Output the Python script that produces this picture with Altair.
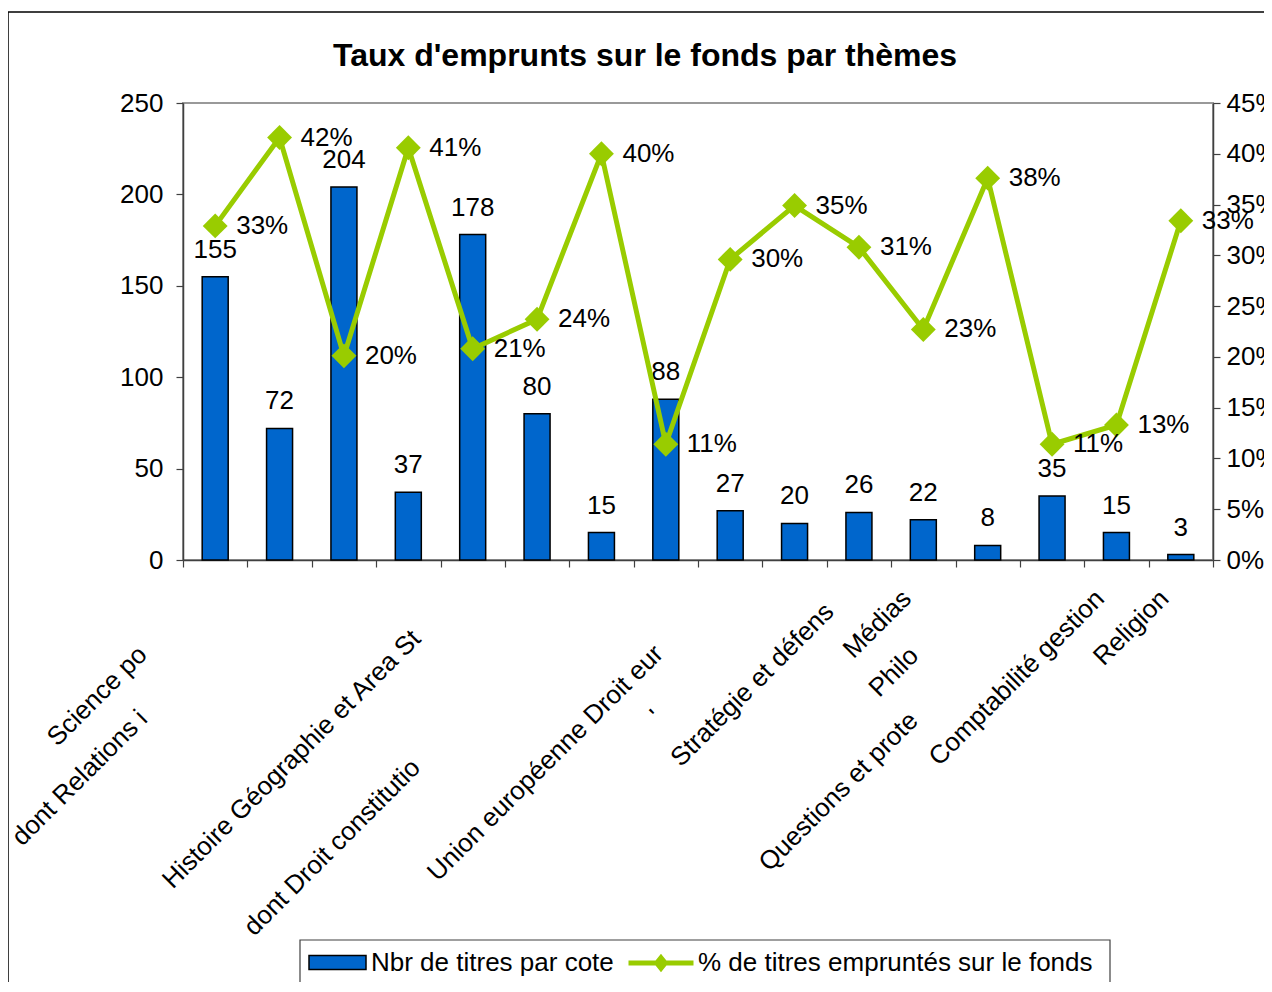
import json
import altair as alt
import pandas as pd

# ---------------- data ----------------
theme_idx = list(range(16))
axis_labels = ["Science po", "dont Relations i", "", "", "Histoire Géographie et Area St", "",
               "dont Droit constitutio", "", "Union européenne Droit eur", "'",
               "Stratégie et défens", "Médias", "Philo", "Questions et prote",
               "Comptabilité gestion", "Religion"]
nb_titres = [155, 72, 204, 37, 178, 80, 15, 88, 27, 20, 26, 22, 8, 35, 15, 3]
pct_empruntes = [0.329, 0.416, 0.201, 0.406, 0.208, 0.237, 0.400, 0.114, 0.296, 0.349,
                 0.308, 0.227, 0.376, 0.114, 0.133, 0.334]
bar_name = "Nbr de titres par cote"
line_name = "% de titres empruntés sur le fonds"
left_ticks = [0, 50, 100, 150, 200, 250]
right_ticks = [0, 0.05, 0.10, 0.15, 0.20, 0.25, 0.30, 0.35, 0.40, 0.45]

df = pd.DataFrame({"idx": theme_idx, "nb": nb_titres, "pct": pct_empruntes,
                   "s_bar": bar_name, "s_line": line_name})

# ---------------- style ----------------
FONT = "Liberation Sans"
BLUE = "#0066CC"
GREEN = "#99CC00"
AX = "#404040"
FS = 26

# staggering of the clipped category labels (shift along the label direction)
label_shift = {0: 56, 1: 120, 4: 40, 6: 169, 8: 55, 9: 120, 10: 13, 12: 57, 13: 122}
base_off = -26
base_pad = 18
label_offset = {"condition": [{"test": f"datum.value === {k}", "value": base_off - v}
                              for k, v in label_shift.items()], "value": base_off}
label_padding = {"condition": [{"test": f"datum.value === {k}", "value": base_pad + v}
                               for k, v in label_shift.items()], "value": base_pad}

x_enc = alt.X(
    "idx:O",
    scale=alt.Scale(type="band", paddingInner=0, paddingOuter=0),
    axis=alt.Axis(
        title=None,
        labelExpr=json.dumps(axis_labels, ensure_ascii=False) + "[datum.value]",
        labelAngle=-45, labelFontSize=FS, labelFont=FONT, labelColor="black",
        labelLimit=1000, labelOverlap=False,
        tickBand="extent", tickSize=7, tickColor=AX, tickWidth=1.2,
        domainColor=AX, domainWidth=1.5,
        labelOffset=label_offset, labelPadding=label_padding,
    ),
)

bars = alt.Chart(df).mark_bar(size=26, stroke="black", strokeWidth=1.5).encode(
    x=x_enc,
    y=alt.Y("nb:Q", scale=alt.Scale(domain=[0, 250], nice=False),
            axis=alt.Axis(title=None, values=left_ticks, grid=False, labelFontSize=FS,
                          labelFont=FONT, labelColor="black", tickSize=7, tickColor=AX,
                          tickWidth=1.2, domainColor=AX, domainWidth=1.5, labelPadding=13)),
    fill=alt.Fill("s_bar:N", scale=alt.Scale(domain=[bar_name], range=[BLUE]),
                  legend=alt.Legend(orient="none", legendX=125, legendY=830, title=None,
                                    labelFontSize=FS, labelFont=FONT, labelColor="black",
                                    symbolType="M-1,-0.245L1,-0.245L1,0.245L-1,0.245Z",
                                    symbolSize=3249, symbolStrokeColor="black",
                                    symbolStrokeWidth=1.5, labelOffset=4, padding=0,
                                    labelLimit=1000)),
)
bar_text = alt.Chart(df).mark_text(dy=-19, baseline="alphabetic", fontSize=FS, font=FONT,
                                   color="black").encode(
    x="idx:O", y="nb:Q", text="nb:Q")

y_right = alt.Y("pct:Q", scale=alt.Scale(domain=[0, 0.45], nice=False),
                axis=alt.Axis(orient="right", title=None, values=right_ticks, format=".0%",
                              grid=False, labelFontSize=FS, labelFont=FONT,
                              labelColor="black", tickSize=7, tickColor=AX, tickWidth=1.2,
                              domainColor=AX, domainWidth=1.5, labelPadding=6))

line = alt.Chart(df).mark_line(strokeWidth=5).encode(
    x="idx:O", y=y_right,
    stroke=alt.Stroke("s_line:N", scale=alt.Scale(domain=[line_name], range=[GREEN]),
                      legend=alt.Legend(orient="none", legendX=443, legendY=825, title=None,
                                        labelFontSize=FS, labelFont=FONT, labelColor="black",
                                        symbolType="M-1,0L1,0M0,-0.16L0.13,0L0,0.16L-0.13,0Z",
                                        symbolSize=4225, symbolStrokeWidth=5,
                                        symbolFillColor=GREEN, labelOffset=2, padding=0,
                                        labelLimit=1000)),
)
pts = alt.Chart(df).mark_point(shape="diamond", filled=True, size=620, color=GREEN,
                               opacity=1).encode(x="idx:O", y="pct:Q")
pct_text = alt.Chart(df).mark_text(align="left", dx=21, baseline="middle", fontSize=FS,
                                   font=FONT, color="black").encode(
    x="idx:O", y="pct:Q", text=alt.Text("pct:Q", format=".0%"))

one = pd.DataFrame({"k": [0]})
outer_border = alt.Chart(one).mark_rect(fillOpacity=0, stroke="black",
                                        strokeWidth=1.5).encode(
    x=alt.value(-175), x2=alt.value(1200), y=alt.value(-91), y2=alt.value(1000))
legend_box = alt.Chart(one).mark_rect(fillOpacity=0, stroke=AX, strokeWidth=1.2).encode(
    x=alt.value(117), x2=alt.value(927), y=alt.value(837), y2=alt.value(880))

left_layer = alt.layer(bars, bar_text)
right_layer = alt.layer(line, pts, pct_text)

chart = alt.layer(outer_border, legend_box, left_layer, right_layer).resolve_scale(
    y="independent"
).properties(
    width=1030, height=457,
    autosize="none",
    padding={"left": 175, "top": 95, "right": 51, "bottom": 422},
    title=alt.Title("Taux d'emprunts sur le fonds par thèmes", fontSize=32, font=FONT,
                    fontWeight="bold", color="black", dx=-53, offset=0, dy=87,
                    frame="group", anchor="middle", baseline="alphabetic"),
).configure_view(stroke="#999999", strokeWidth=2)

chart.save("out.html", embed_options={"renderer": "svg", "actions": False})
